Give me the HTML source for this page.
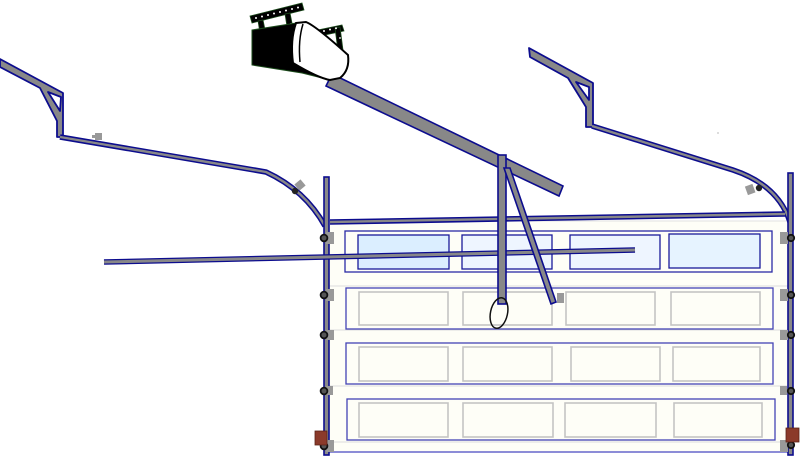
<!DOCTYPE html>
<html><head><meta charset="utf-8"><style>
html,body{margin:0;padding:0;background:#fff;}
svg{display:block;}
</style></head><body>
<svg width="800" height="457" viewBox="0 0 800 457" xmlns="http://www.w3.org/2000/svg">
<!-- door background -->
<rect x="329" y="221" width="461" height="231" fill="#fefef7" stroke="#e2e2e2" stroke-width="1"/>
<g stroke="#dcdcdc" stroke-width="1">
<line x1="329" y1="286" x2="790" y2="286"/>
<line x1="329" y1="330" x2="790" y2="330"/>
<line x1="329" y1="386" x2="790" y2="386"/>
<line x1="329" y1="442" x2="790" y2="442"/>
</g>
<line x1="329" y1="452" x2="790" y2="452" stroke="#6666cc" stroke-width="1.5"/>
<!-- section 1 windows -->
<rect x="345" y="231" width="427" height="41" fill="#fefef7" stroke="#2a2aa5" stroke-width="1.3"/>
<rect x="358" y="235" width="91" height="34" fill="#dbeeff" stroke="#1a1a99" stroke-width="1.3"/>
<rect x="462" y="235" width="90" height="34" fill="#eef5ff" stroke="#1a1a99" stroke-width="1.3"/>
<rect x="570" y="235" width="90" height="34" fill="#eef5ff" stroke="#1a1a99" stroke-width="1.3"/>
<rect x="669" y="234" width="91" height="34" fill="#e6f3ff" stroke="#1a1a99" stroke-width="1.3"/>
<!-- section panels -->
<g fill="#fefef7">
<rect x="346" y="288" width="427" height="41" stroke="#4444b5" stroke-width="1.3"/>
<rect x="346" y="343" width="427" height="41" stroke="#4444b5" stroke-width="1.3"/>
<rect x="347" y="399" width="428" height="41" stroke="#4444b5" stroke-width="1.3"/>
</g>
<g fill="#fefef7" stroke="#c4c4c4" stroke-width="1.6">
<rect x="359" y="292" width="89" height="33"/>
<rect x="463" y="292" width="89" height="33"/>
<rect x="566" y="292" width="89" height="33"/>
<rect x="671" y="292" width="89" height="33"/>
<rect x="359" y="347" width="89" height="34"/>
<rect x="463" y="347" width="89" height="34"/>
<rect x="571" y="347" width="89" height="34"/>
<rect x="673" y="347" width="87" height="34"/>
<rect x="359" y="403" width="89" height="34"/>
<rect x="463" y="403" width="90" height="34"/>
<rect x="565" y="403" width="91" height="34"/>
<rect x="674" y="403" width="88" height="34"/>
</g>

<!-- left bracket -->
<path d="M0,59 L63,93 L63,137 L57,137 L57,121 L40,88 L0,67 Z M48,92 L61,97 L60,111 Z" fill="#888" fill-rule="evenodd" stroke="#0c0c8e" stroke-width="1.8" stroke-linejoin="round"/>
<!-- right bracket -->
<path d="M529,48 L593,83 L593,127 L586,127 L586,107 L568,78 L530,57 Z M576,82 L589,87 L589,100 Z" fill="#888" fill-rule="evenodd" stroke="#0c0c8e" stroke-width="1.8" stroke-linejoin="round"/>

<!-- left rail -->
<path d="M60,137 L266,172 Q305,190 325,226" fill="none" stroke="#0c0c8e" stroke-width="5.5"/>
<path d="M60,137 L266,172 Q305,190 325,226" fill="none" stroke="#888" stroke-width="2.4"/>
<!-- right rail -->
<path d="M592,126 L733,170 Q778,185 790,222" fill="none" stroke="#0c0c8e" stroke-width="5.5"/>
<path d="M592,126 L733,170 Q778,185 790,222" fill="none" stroke="#888" stroke-width="2.4"/>

<!-- small brackets -->
<path d="M95,133 h7 v7 h-7 v-2 h-3 v-3 h3z" fill="#999"/>
<rect x="296" y="181" width="8" height="8" fill="#999" transform="rotate(-40 300 185)"/>
<circle cx="295" cy="191" r="3.2" fill="#222"/>
<rect x="746" y="185" width="8" height="9" fill="#999" transform="rotate(-20 750 189)"/>
<circle cx="759" cy="188" r="3.2" fill="#222"/>
<circle cx="718" cy="133" r="0.6" fill="#888"/>

<!-- top door bar -->
<path d="M330,222 L785,214" stroke="#0c0c8e" stroke-width="5.5"/>
<path d="M330,222 L785,214" stroke="#888" stroke-width="2.4"/>

<!-- vertical tracks -->
<rect x="324" y="177" width="5" height="278" fill="#888" stroke="#0c0c8e" stroke-width="1.6"/>
<rect x="788" y="173" width="5" height="282" fill="#888" stroke="#0c0c8e" stroke-width="1.6"/>

<!-- horizontal pole -->
<path d="M104,262 L635,250" stroke="#0c0c8e" stroke-width="5.5"/>
<path d="M104,262 L635,250" stroke="#888" stroke-width="3"/>

<!-- roller plates -->
<g fill="#999">
<rect x="326" y="232" width="8" height="12"/>
<rect x="326" y="289" width="8" height="12"/>
<rect x="326" y="330" width="8" height="10"/>
<rect x="326" y="386" width="7" height="9"/>
<rect x="326" y="440" width="8" height="12"/>
<rect x="780" y="232" width="8" height="12"/>
<rect x="780" y="289" width="8" height="12"/>
<rect x="780" y="330" width="8" height="10"/>
<rect x="780" y="386" width="7" height="9"/>
<rect x="780" y="440" width="8" height="12"/>
</g>
<g fill="#555" stroke="#111" stroke-width="1.8">
<circle cx="324" cy="238" r="3.4"/>
<circle cx="324" cy="295" r="3.4"/>
<circle cx="324" cy="335" r="3.4"/>
<circle cx="324" cy="391" r="3.4"/>
<circle cx="324" cy="446" r="3.4"/>
<circle cx="791" cy="238" r="3.2"/>
<circle cx="791" cy="295" r="3.2"/>
<circle cx="791" cy="335" r="3.2"/>
<circle cx="791" cy="391" r="3.2"/>
<circle cx="791" cy="445" r="3.2"/>
</g>
<!-- brown blocks -->
<rect x="315" y="431" width="12" height="14" fill="#8b3a2a" stroke="#5a2418" stroke-width="0.8"/>
<rect x="786" y="428" width="13" height="14" fill="#8b3a2a" stroke="#5a2418" stroke-width="0.8"/>

<!-- main opener rail -->
<path d="M332,74 L563,186 L559,196 L326,86 Z" fill="#888" stroke="#0c0c8e" stroke-width="1.6"/>
<!-- arms -->
<rect x="498" y="155" width="8" height="149" fill="#888" stroke="#0c0c8e" stroke-width="1.6"/>
<path d="M504,168 L510,168 L556,302 L551,304 Z" fill="#888" stroke="#0c0c8e" stroke-width="1.6"/>
<rect x="557" y="293" width="7" height="10" fill="#999"/>
<ellipse cx="499" cy="313" rx="8.5" ry="15.5" transform="rotate(12 499 313)" fill="none" stroke="#111" stroke-width="1.5"/>

<!-- motor mounting strips -->
<g stroke="#1a4a1a" stroke-width="0.8">
<path d="M250,16 L302,3 L304,10 L252,23 Z" fill="#000"/>
<path d="M258,21 L263,20 L268,44 L262,45 Z" fill="#000"/>
<path d="M285,14 L290,13 L295,38 L289,39 Z" fill="#000"/>
<path d="M313,31 L342,25 L344,31 L315,37 Z" fill="#000"/>
<path d="M335,28 L340,27 L343,50 L338,51 Z" fill="#000"/>
</g>
<g fill="#fff">
<circle cx="256" cy="18" r="1"/><circle cx="262" cy="16.5" r="1"/><circle cx="268" cy="15" r="1"/><circle cx="274" cy="13.5" r="1"/><circle cx="280" cy="12" r="1"/><circle cx="286" cy="10.5" r="1"/><circle cx="292" cy="9" r="1"/><circle cx="298" cy="7.5" r="1"/>
<circle cx="318" cy="32" r="1"/><circle cx="324" cy="31" r="1"/><circle cx="330" cy="29.5" r="1"/><circle cx="336" cy="28.3" r="1"/>
<circle cx="264" cy="30" r="0.9"/><circle cx="291" cy="24" r="0.9"/><circle cx="340" cy="38" r="0.9"/>
</g>
<!-- motor body -->
<path d="M252,30 L296,23 L330,80 L302,73 L252,65 Z" fill="#000" stroke="#1a4a1a" stroke-width="1"/>
<path d="M296,23 L306,22 Q316,26 348,55 Q350,70 340,78 L330,80 Q318,78 293,63 Q290,40 296,23 Z" fill="#fff" stroke="#000" stroke-width="2"/>
<path d="M303,24 Q298,40 300,62" fill="none" stroke="#000" stroke-width="1.5"/>
</svg>
</body></html>
